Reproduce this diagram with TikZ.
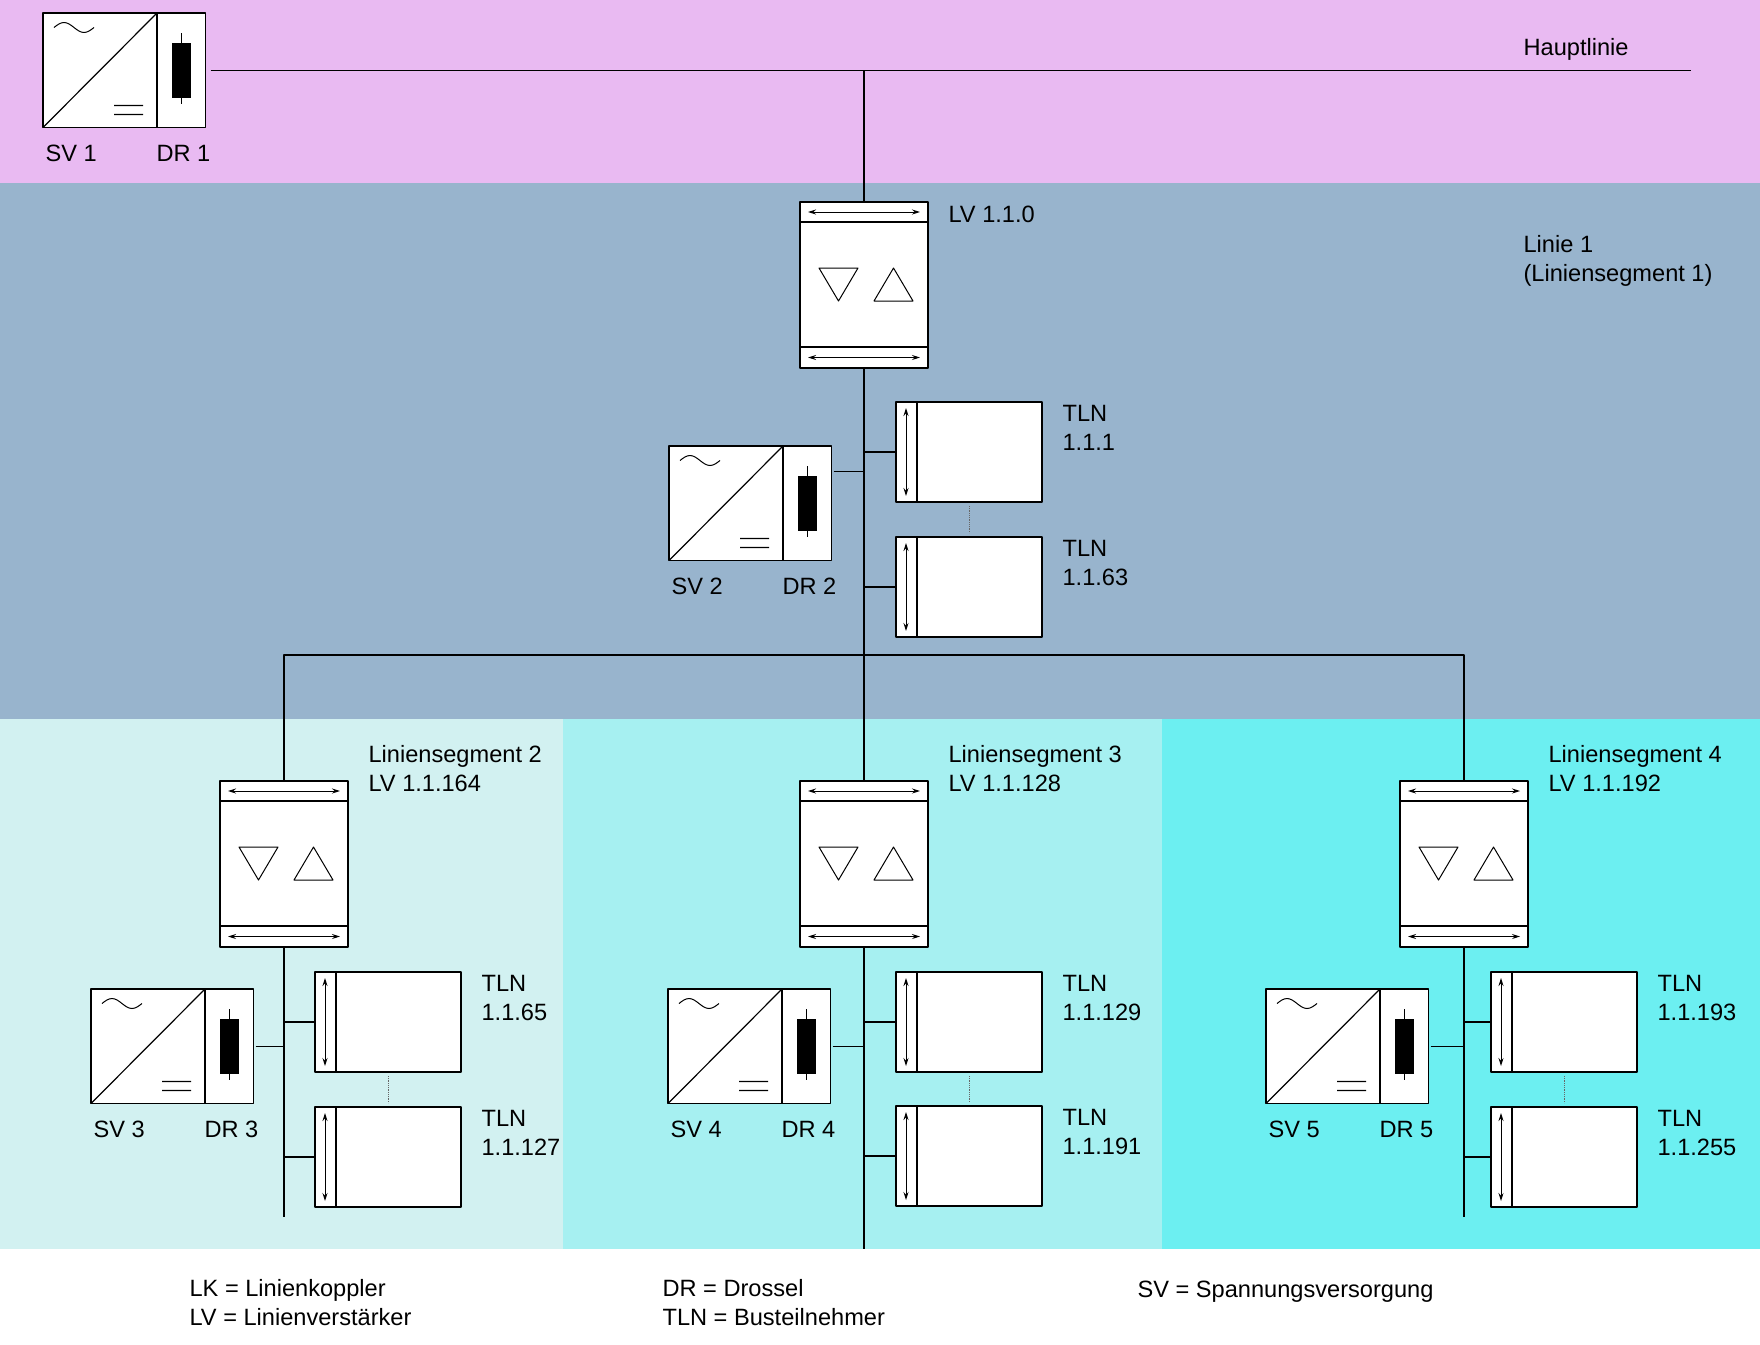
\documentclass[tikz,border=0pt]{standalone}
\usepackage{fontspec}
\setmainfont{Liberation Sans}
\usetikzlibrary{positioning,arrows.meta}
\definecolor{hauptbg}{RGB}{233,186,242}
\definecolor{liniebg}{RGB}{152,180,205}
\definecolor{segbga}{RGB}{210,241,241}
\definecolor{segbgb}{RGB}{166,240,241}
\definecolor{segbgc}{RGB}{108,239,241}
\tikzset{
  dev/.style={draw, fill=white, inner sep=0pt, outer sep=0pt, anchor=north west},
  lvbox/.style={dev, minimum width=128pt, minimum height=166pt},
  tlnbox/.style={dev, minimum width=146pt, minimum height=100pt},
  svbox/.style={dev, minimum width=114pt, minimum height=114.5pt},
  drbox/.style={draw, fill=white, inner sep=0pt, outer sep=0pt, minimum width=48.5pt, minimum height=114.5pt},
  lbl/.style={anchor=base west, align=left, inner sep=0pt}
}
\begin{document}
\begin{tikzpicture}[x=1pt, y=-1pt, line width=1.2pt, line join=round, >={Stealth[length=8pt,width=5pt]}, font=\fontsize{23.6pt}{29pt}\selectfont]
% Hintergrund
\useasboundingbox (0,0) rectangle (1760,1344);
\fill[white] (0,0) rectangle (1760,1344);
\fill[hauptbg] (0,0) rectangle (1760,183);
\fill[liniebg] (0,183) rectangle (1760,719);
\fill[segbga] (0,719) rectangle (563,1249);
\fill[segbgb] (563,719) rectangle (1162,1249);
\fill[segbgc] (1162,719) rectangle (1760,1249);
\path (1691,70.25) coordinate (hl)
      (0,655) coordinate (dist)
      (0,1217) coordinate (segend)
      (0,1249) coordinate (bot);
% Spannungsversorgungen mit Drossel
\node[svbox] (sv1) at (43,13) {};
\node[svbox] (sv2) at (669,446) {};
\node[svbox] (sv3) at (91,989) {};
\node[svbox] (sv4) at (668,989) {};
\node[svbox] (sv5) at (1266,989) {};
\foreach \i in {1,...,5}{
  \node[drbox, right=0pt of sv\i] (dr\i) {};
  \draw[shift={(sv\i.north west)}] (0,114.5) -- (114,0) (71,92.5) -- (100,92.5) (71,101.5) -- (100,101.5);
  \draw[shift={(sv\i.north west)}, line width=1pt] (11,14.5) sin (21,9.5) cos (31,14.5) sin (41,19.5) cos (51,14.5);
  \fill[shift={(dr\i.north west)}] (15,29.5) rectangle (34,84.5);
  \draw[shift={(dr\i.north west)}, line width=1pt] (24.5,20) -- (24.5,91);
  \node[lbl] (svname\i) at ([shift={(2pt,-33.5pt)}]sv\i.south west) {SV \i};
  \node[lbl] (drname\i) at ([shift={(-1pt,-33.5pt)}]dr\i.south west) {DR \i};
}
% Linienverstaerker
\node[lvbox] (lv110) at (800,202) {};
\node[lvbox] (lv164) at (220,781) {};
\node[lvbox] (lv128) at (800,781) {};
\node[lvbox] (lv192) at (1400,781) {};
\foreach \n in {lv110,lv164,lv128,lv192}{
  \draw[shift={(\n.north west)}] (0,20) -- (128,20) (0,145) -- (128,145);
  \draw[shift={(\n.north west)}, line width=1pt] (19,66) -- (58,66) -- (38.5,99) -- cycle (74,99) -- (113,99) -- (93.5,66) -- cycle;
  \draw[shift={(\n.north west)}, line width=1pt, <->] (8,10) -- (120,10);
  \draw[shift={(\n.north west)}, line width=1pt, <->] (8,155.5) -- (120,155.5);
}
% Busteilnehmer
\foreach \n/\x/\y/\a in {tln1/896/402/1, tln63/896/537/63, tln65/315/972/65, tln127/315/1107/127,
    tln129/896/972/129, tln191/896/1106/191, tln193/1491/972/193, tln255/1491/1107/255}{
  \node[tlnbox] (\n) at (\x,\y) {};
  \draw[shift={(\n.north west)}] (21,0) -- (21,100);
  \draw[shift={(\n.north west)}, line width=1pt, <->] (10,6) -- (10,94);
  \node[lbl] (\n name) at ([shift={(20pt,-48pt)}]\n.north east) {TLN\\1.1.\a};
}
% Leitungen
\draw ([xshift=5pt]dr1.east) -- (dr1.east -| hl);
\draw (lv110.north) -- (lv110.north |- hl);
\draw (lv110.south) -- (lv128.north);
\draw (lv128.south) -- (lv128.south |- bot);
\draw (lv164.north) |- (lv192.north |- dist) -- (lv192.north);
\draw (lv164.south) -- (lv164.south |- segend);
\draw (lv192.south) -- (lv192.south |- segend);
\foreach \t/\l in {tln1/lv110, tln63/lv110, tln65/lv164, tln127/lv164, tln129/lv128, tln191/lv128, tln193/lv192, tln255/lv192}
  \draw (\t.west) -- (\t.west -| \l.south);
\draw ([xshift=2pt,yshift=32pt]dr2.east) -- ([yshift=32pt]dr2.east -| lv110.south);
\foreach \d/\l in {dr3/lv164, dr4/lv128, dr5/lv192}
  \draw ([xshift=2pt]\d.east) -- (\d.east -| \l.south);
\foreach \a/\b in {tln1/tln63, tln65/tln127, tln129/tln191, tln193/tln255}
  \draw[black!60, line width=0.8pt, densely dotted] ([yshift=-4pt]\a.south) -- ([yshift=4pt]\b.north);
% Beschriftung
\node[lbl] (hlname) at (1523,55) {Hauptlinie};
\node[lbl] (l1name) at (1523,281) {Linie 1\\(Liniensegment 1)};
\node[lbl] (lv110name) at ([shift={(20pt,-20.5pt)}]lv110.north east) {LV 1.1.0};
\foreach \n/\s/\a in {lv164/2/164, lv128/3/128, lv192/4/192}
  \node[lbl] (\n name) at ([shift={(20pt,-10pt)}]\n.north east) {Liniensegment \s\\LV 1.1.\a};
\node[lbl] (lega) at (189,1325) {LK = Linienkoppler\\LV = Linienverstärker};
\node[lbl] (legb) at (662,1325) {DR = Drossel\\TLN = Busteilnehmer};
\node[lbl] (legc) at (1137,1297) {SV = Spannungsversorgung};
\end{tikzpicture}
\end{document}
